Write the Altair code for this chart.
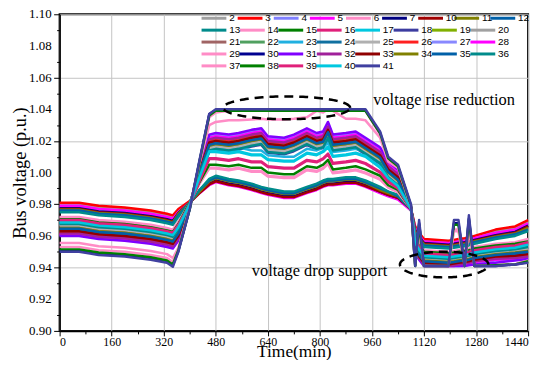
import altair as alt
import pandas as pd
import numpy as np

# ---------------- data ----------------
T = [0, 60, 120, 200, 280, 330, 348, 365, 400, 430,
     460, 480, 520, 550, 590, 620, 640, 690, 720, 760,
     790, 810, 825, 840, 880, 910, 940, 985, 1010, 1040,
     1080, 1093, 1105, 1120, 1195, 1212, 1226, 1245, 1258, 1275,
     1340, 1400, 1440]

bus_2 = [0.980, 0.980, 0.978, 0.977, 0.975, 0.973, 0.972,
         0.976, 0.982, 0.988,
         0.994, 0.996, 0.994, 0.993, 0.991, 0.989, 0.988, 0.986, 0.986, 0.989, 0.991, 0.993, 0.994, 0.994, 0.995, 0.995, 0.993,
         0.989, 0.987, 0.985, 0.977,
         0.965, 0.961, 0.957, 0.956, 0.9565, 0.957, 0.9575, 0.958, 0.959, 0.963, 0.965, 0.969]
bus_3 = [0.981, 0.981, 0.979, 0.978, 0.976, 0.974, 0.973,
         0.977, 0.982, 0.988,
         0.993, 0.995, 0.993, 0.992, 0.990, 0.988, 0.987, 0.985, 0.985, 0.988, 0.990, 0.992, 0.993, 0.993, 0.994, 0.994, 0.992,
         0.988, 0.986, 0.984, 0.977,
         0.966, 0.962, 0.958, 0.957, 0.9575, 0.958, 0.9585, 0.959, 0.960, 0.964, 0.966, 0.970]
bus_4 = [0.978, 0.978, 0.976, 0.975, 0.973, 0.971, 0.970,
         0.975, 0.981, 0.988,
         0.994, 0.996, 0.994, 0.993, 0.991, 0.989, 0.988, 0.986, 0.986, 0.989, 0.991, 0.993, 0.994, 0.994, 0.995, 0.995, 0.993,
         0.989, 0.987, 0.985, 0.977,
         0.964, 0.960, 0.956, 0.955, 0.9555, 0.956, 0.9565, 0.957, 0.958, 0.961, 0.963, 0.967]
bus_5 = [0.979, 0.979, 0.977, 0.976, 0.974, 0.972, 0.971,
         0.975, 0.981, 0.987,
         0.992, 0.994, 0.992, 0.991, 0.989, 0.987, 0.986, 0.984, 0.984, 0.987, 0.989, 0.991, 0.992, 0.992, 0.993, 0.993, 0.991,
         0.987, 0.985, 0.983, 0.976,
         0.9645, 0.9605, 0.9565, 0.9555, 0.956, 0.9565, 0.957, 0.9575, 0.9585, 0.962, 0.964, 0.968]
bus_6 = [0.972, 0.972, 0.970, 0.969, 0.967, 0.965, 0.964,
         0.969, 0.981, 0.993,
         1.003, 1.003, 1.002, 1.003, 1.001, 1.001, 0.998, 0.997, 0.997, 1.002, 1.001, 1.003, 1.006, 1.000, 1.001, 1.002, 1.000,
         0.996, 0.991, 0.988, 0.977,
         0.959, 0.955, 0.951, 0.950, 0.9505, 0.951, 0.9515, 0.952, 0.953, 0.955, 0.956, 0.958]
bus_7 = [0.9775, 0.9775, 0.9755, 0.9745, 0.9725, 0.9705, 0.9695,
         0.9745, 0.981, 0.988,
         0.993, 0.995, 0.993, 0.992, 0.990, 0.988, 0.987, 0.985, 0.985, 0.988, 0.990, 0.992, 0.993, 0.993, 0.994, 0.994, 0.992,
         0.988, 0.986, 0.984, 0.977,
         0.9635, 0.9595, 0.9555, 0.9545, 0.955, 0.9555, 0.956, 0.9565, 0.9575, 0.9605, 0.9625, 0.9665]
bus_10 = [0.977, 0.977, 0.975, 0.974, 0.972, 0.970, 0.969,
          0.974, 0.981, 0.987,
          0.9925, 0.9945, 0.9925, 0.9915, 0.9895, 0.9875, 0.9865, 0.9845, 0.9845, 0.9875, 0.9895, 0.9915, 0.9925, 0.9925, 0.9935, 0.9935, 0.9915,
          0.988, 0.986, 0.984, 0.977,
          0.963, 0.959, 0.955, 0.954, 0.9545, 0.955, 0.9555, 0.956, 0.957, 0.960, 0.962, 0.966]
bus_11 = [0.9765, 0.9765, 0.9745, 0.9735, 0.9715, 0.9695, 0.9685,
          0.974, 0.981, 0.988,
          0.9945, 0.9965, 0.9945, 0.9935, 0.9915, 0.9895, 0.9885, 0.9865, 0.9865, 0.9895, 0.9915, 0.9935, 0.9945, 0.9945, 0.9955, 0.9955, 0.9935,
          0.989, 0.987, 0.985, 0.977,
          0.9625, 0.9585, 0.9545, 0.9535, 0.954, 0.9545, 0.955, 0.9555, 0.9565, 0.9595, 0.9615, 0.965]
bus_12 = [0.976, 0.976, 0.974, 0.973, 0.971, 0.969, 0.968,
          0.973, 0.981, 0.989,
          0.995, 0.997, 0.995, 0.994, 0.992, 0.990, 0.989, 0.987, 0.987, 0.990, 0.992, 0.994, 0.995, 0.995, 0.996, 0.996, 0.994,
          0.990, 0.988, 0.985, 0.977,
          0.962, 0.958, 0.954, 0.953, 0.9535, 0.954, 0.9545, 0.955, 0.956, 0.959, 0.961, 0.964]
bus_13 = [0.975, 0.975, 0.973, 0.972, 0.970, 0.968, 0.967,
          0.972, 0.981, 0.989,
          0.996, 0.998, 0.996, 0.995, 0.993, 0.991, 0.990, 0.988, 0.988, 0.991, 0.993, 0.995, 0.996, 0.996, 0.997, 0.997, 0.995,
          0.991, 0.988, 0.986, 0.977,
          0.961, 0.957, 0.953, 0.952, 0.9525, 0.953, 0.9535, 0.954, 0.955, 0.958, 0.960, 0.963]
bus_14 = [0.9715, 0.9715, 0.9695, 0.9685, 0.9665, 0.9645, 0.9635,
          0.9685, 0.981, 0.993,
          1.0025, 1.0025, 1.0015, 1.0025, 1.0005, 1.0005, 0.9975, 0.9965, 0.9965, 1.0015, 1.0005, 1.0025, 1.0055, 0.9995, 1.0005, 1.0015, 0.9995,
          0.9955, 0.9905, 0.9875, 0.977,
          0.9585, 0.9545, 0.9505, 0.9495, 0.950, 0.9505, 0.951, 0.9515, 0.9525, 0.9545, 0.9555, 0.957]
bus_15 = [0.9705, 0.9705, 0.9685, 0.9675, 0.9655, 0.9635, 0.9625,
          0.9675, 0.981, 0.994,
          1.005, 1.005, 1.004, 1.005, 1.003, 1.003, 1.000, 0.999, 0.999, 1.004, 1.003, 1.005, 1.008, 1.002, 1.003, 1.004, 1.002,
          0.998, 0.992, 0.989, 0.977,
          0.958, 0.954, 0.950, 0.949, 0.9495, 0.950, 0.9505, 0.951, 0.952, 0.954, 0.955, 0.9565]
bus_16 = [0.970, 0.970, 0.968, 0.967, 0.965, 0.963, 0.962,
          0.967, 0.980, 0.995,
          1.0085, 1.0085, 1.0075, 1.0085, 1.0065, 1.0065, 1.0035, 1.0025, 1.0025, 1.0075, 1.0065, 1.0085, 1.0115, 1.0055, 1.0065, 1.0075, 1.0055,
          1.000, 0.994, 0.990, 0.977,
          0.957, 0.953, 0.949, 0.948, 0.9485, 0.949, 0.9495, 0.950, 0.951, 0.953, 0.954, 0.956]
bus_17 = [0.969, 0.969, 0.967, 0.966, 0.964, 0.962, 0.961,
          0.966, 0.980, 0.997,
          1.013, 1.013, 1.012, 1.013, 1.011, 1.011, 1.008, 1.007, 1.007, 1.012, 1.011, 1.013, 1.016, 1.010, 1.011, 1.012, 1.010,
          1.003, 0.996, 0.991, 0.977,
          0.956, 0.952, 0.948, 0.947, 0.9475, 0.948, 0.9485, 0.949, 0.950, 0.952, 0.953, 0.955]
bus_18 = [0.967, 0.967, 0.965, 0.964, 0.962, 0.960, 0.959,
          0.964, 0.980, 0.998,
          1.0135, 1.0145, 1.0135, 1.0145, 1.0165, 1.0175, 1.0125, 1.0115, 1.0135, 1.0175, 1.0145, 1.0155, 1.0215, 1.0135, 1.0145, 1.0155, 1.0115,
          1.0055, 0.9965, 0.9915, 0.977,
          0.954, 0.950, 0.946, 0.945, 0.9455, 0.946, 0.9465, 0.947, 0.948, 0.950, 0.951, 0.9525]
bus_19 = [0.9635, 0.9635, 0.9615, 0.9605, 0.9585, 0.9565, 0.9555,
          0.9605, 0.980, 1.001,
          1.0185, 1.0195, 1.0185, 1.0195, 1.0215, 1.0225, 1.0175, 1.0165, 1.0185, 1.0225, 1.0195, 1.0205, 1.0265, 1.0185, 1.0195, 1.0205, 1.0165,
          1.0105, 1.0015, 0.9965, 0.977,
          0.9515, 0.9475, 0.9435, 0.9425, 0.943, 0.9435, 0.944, 0.9445, 0.9455, 0.9475, 0.948, 0.949]
bus_20 = [0.967, 0.967, 0.965, 0.964, 0.962, 0.960, 0.959,
          0.964, 0.980, 0.999,
          1.015, 1.016, 1.015, 1.016, 1.018, 1.019, 1.014, 1.013, 1.015, 1.019, 1.016, 1.017, 1.023, 1.015, 1.016, 1.017, 1.013,
          1.007, 0.998, 0.993, 0.977,
          0.954, 0.950, 0.946, 0.945, 0.9455, 0.946, 0.9465, 0.947, 0.948, 0.950, 0.951, 0.9525]
bus_21 = [0.966, 0.966, 0.964, 0.963, 0.961, 0.959, 0.958,
          0.963, 0.980, 1.000,
          1.016, 1.017, 1.016, 1.017, 1.019, 1.020, 1.015, 1.014, 1.016, 1.020, 1.017, 1.018, 1.024, 1.016, 1.017, 1.018, 1.014,
          1.008, 0.999, 0.994, 0.977,
          0.953, 0.949, 0.945, 0.944, 0.9445, 0.945, 0.9455, 0.946, 0.947, 0.949, 0.950, 0.9515]
bus_22 = [0.9625, 0.9625, 0.9605, 0.9595, 0.9575, 0.9555, 0.9545,
          0.9595, 0.979, 1.002,
          1.020, 1.021, 1.020, 1.021, 1.023, 1.024, 1.019, 1.018, 1.020, 1.024, 1.021, 1.022, 1.028, 1.020, 1.021, 1.022, 1.018,
          1.012, 1.003, 0.998, 0.978,
          0.9505, 0.9465, 0.9425, 0.9415, 0.942, 0.9425, 0.943, 0.9435, 0.9445, 0.9465, 0.947, 0.948]
bus_23 = [0.968, 0.968, 0.966, 0.965, 0.963, 0.961, 0.960,
          0.965, 0.980, 0.998,
          1.016, 1.016, 1.015, 1.016, 1.014, 1.014, 1.011, 1.010, 1.010, 1.015, 1.014, 1.016, 1.019, 1.013, 1.014, 1.015, 1.013,
          1.006, 0.998, 0.993, 0.977,
          0.955, 0.951, 0.947, 0.946, 0.9465, 0.947, 0.9475, 0.948, 0.949, 0.951, 0.952, 0.954]
bus_24 = [0.964, 0.964, 0.962, 0.961, 0.959, 0.957, 0.956,
          0.961, 0.980, 1.001,
          1.018, 1.019, 1.018, 1.019, 1.021, 1.022, 1.017, 1.016, 1.018, 1.022, 1.019, 1.020, 1.026, 1.018, 1.019, 1.020, 1.016,
          1.010, 1.001, 0.996, 0.977,
          0.9515, 0.9475, 0.9435, 0.9425, 0.943, 0.9435, 0.944, 0.9445, 0.9455, 0.9475, 0.9485, 0.9495]
bus_25 = [0.9665, 0.9665, 0.9645, 0.9635, 0.9615, 0.9595, 0.9585,
          0.9635, 0.980, 0.999,
          1.0155, 1.0165, 1.0155, 1.0165, 1.0185, 1.0195, 1.0145, 1.0135, 1.0155, 1.0195, 1.0165, 1.0175, 1.0235, 1.0155, 1.0165, 1.0175, 1.0135,
          1.0075, 0.9985, 0.9935, 0.977,
          0.9535, 0.9495, 0.9455, 0.9445, 0.945, 0.9455, 0.946, 0.9465, 0.9475, 0.9495, 0.9505, 0.952]
bus_26 = [0.962, 0.962, 0.960, 0.959, 0.957, 0.955, 0.954,
          0.959, 0.979, 1.002,
          1.0205, 1.0215, 1.0205, 1.0215, 1.0235, 1.0245, 1.0195, 1.0185, 1.0205, 1.0245, 1.0215, 1.0225, 1.0285, 1.0205, 1.0215, 1.0225, 1.0185,
          1.0125, 1.0035, 0.9985, 0.978,
          0.9505, 0.9465, 0.9425, 0.9415, 0.942, 0.9425, 0.943, 0.9435, 0.9445, 0.946, 0.9465, 0.9475]
bus_27 = [0.9605, 0.9605, 0.9585, 0.9575, 0.9555, 0.9535, 0.9525,
          0.9575, 0.979, 1.003,
          1.023, 1.024, 1.023, 1.024, 1.026, 1.027, 1.022, 1.021, 1.023, 1.027, 1.024, 1.025, 1.031, 1.023, 1.024, 1.025, 1.021,
          1.015, 1.006, 1.001, 0.978,
          0.9495, 0.9455, 0.9415, 0.941, 0.941, 0.941, 0.9415, 0.942, 0.943, 0.9445, 0.945, 0.946]
bus_28 = [0.961, 0.961, 0.959, 0.958, 0.956, 0.954, 0.953,
          0.958, 0.979, 1.003,
          1.022, 1.023, 1.022, 1.023, 1.025, 1.026, 1.021, 1.020, 1.022, 1.026, 1.023, 1.024, 1.030, 1.022, 1.023, 1.024, 1.020,
          1.014, 1.005, 1.000, 0.978,
          0.950, 0.946, 0.942, 0.941, 0.941, 0.9415, 0.942, 0.9425, 0.9435, 0.945, 0.9455, 0.9465]
bus_29 = [0.9555, 0.9555, 0.9535, 0.9525, 0.9505, 0.9485, 0.946,
          0.9525, 0.978, 1.006,
          1.035, 1.038, 1.039, 1.039, 1.039, 1.039, 1.039, 1.039, 1.039, 1.039, 1.039, 1.039, 1.039, 1.039, 1.039, 1.039, 1.039,
          1.024, 1.008, 1.003, 0.979,
          0.942, 0.964, 0.941, 0.941, 0.964, 0.964, 0.941, 0.966, 0.941, 0.9415, 0.942, 0.945]
bus_30 = [0.951, 0.951, 0.949, 0.948, 0.946, 0.944, 0.9415,
          0.9505, 0.977, 1.007,
          1.037, 1.0395, 1.0395, 1.0395, 1.0395, 1.0395, 1.0395, 1.0395, 1.0395, 1.0395, 1.0395, 1.0395, 1.0395, 1.0395, 1.0395, 1.0395, 1.0395,
          1.025, 1.009, 1.004, 0.979,
          0.941, 0.968, 0.941, 0.941, 0.968, 0.968, 0.941, 0.971, 0.941, 0.941, 0.942, 0.9435]
bus_31 = [0.960, 0.960, 0.958, 0.957, 0.955, 0.953, 0.952,
          0.957, 0.979, 1.003,
          1.024, 1.025, 1.024, 1.025, 1.027, 1.028, 1.023, 1.022, 1.024, 1.028, 1.025, 1.026, 1.032, 1.024, 1.025, 1.026, 1.022,
          1.016, 1.007, 1.002, 0.978,
          0.949, 0.945, 0.941, 0.941, 0.941, 0.941, 0.941, 0.9415, 0.942, 0.943, 0.9445, 0.9455]
bus_32 = [0.9615, 0.9615, 0.9595, 0.9585, 0.9565, 0.9545, 0.9535,
          0.9585, 0.979, 1.002,
          1.021, 1.022, 1.021, 1.022, 1.024, 1.025, 1.020, 1.019, 1.021, 1.025, 1.022, 1.023, 1.029, 1.021, 1.022, 1.023, 1.019,
          1.013, 1.004, 0.999, 0.978,
          0.950, 0.946, 0.942, 0.941, 0.9415, 0.942, 0.9425, 0.943, 0.944, 0.9455, 0.946, 0.947]
bus_33 = [0.963, 0.963, 0.961, 0.960, 0.958, 0.956, 0.955,
          0.960, 0.979, 1.001,
          1.019, 1.020, 1.019, 1.020, 1.022, 1.023, 1.018, 1.017, 1.019, 1.023, 1.020, 1.021, 1.027, 1.019, 1.020, 1.021, 1.017,
          1.011, 1.002, 0.997, 0.978,
          0.951, 0.947, 0.943, 0.942, 0.9425, 0.943, 0.9435, 0.944, 0.945, 0.947, 0.9475, 0.9485]
bus_34 = [0.965, 0.965, 0.963, 0.962, 0.960, 0.958, 0.957,
          0.962, 0.980, 1.000,
          1.017, 1.018, 1.017, 1.018, 1.020, 1.021, 1.016, 1.015, 1.017, 1.021, 1.018, 1.019, 1.025, 1.017, 1.018, 1.019, 1.015,
          1.009, 1.000, 0.995, 0.977,
          0.9525, 0.9485, 0.9445, 0.9435, 0.944, 0.9445, 0.945, 0.9455, 0.9465, 0.9485, 0.9495, 0.9505]
bus_35 = [0.9645, 0.9645, 0.9625, 0.9615, 0.9595, 0.9575, 0.9565,
          0.9615, 0.980, 1.000,
          1.0175, 1.0185, 1.0175, 1.0185, 1.0205, 1.0215, 1.0165, 1.0155, 1.0175, 1.0215, 1.0185, 1.0195, 1.0255, 1.0175, 1.0185, 1.0195, 1.0155,
          1.0095, 1.0005, 0.9955, 0.977,
          0.952, 0.948, 0.944, 0.943, 0.9435, 0.944, 0.9445, 0.945, 0.946, 0.948, 0.949, 0.950]
bus_36 = [0.9675, 0.9675, 0.9655, 0.9645, 0.9625, 0.9605, 0.9595,
          0.9645, 0.980, 0.999,
          1.014, 1.015, 1.014, 1.015, 1.017, 1.018, 1.013, 1.012, 1.014, 1.018, 1.015, 1.016, 1.022, 1.014, 1.015, 1.016, 1.012,
          1.006, 0.997, 0.992, 0.977,
          0.9545, 0.9505, 0.9465, 0.9455, 0.946, 0.9465, 0.947, 0.9475, 0.9485, 0.9505, 0.9515, 0.953]
bus_37 = [0.953, 0.953, 0.951, 0.950, 0.948, 0.946, 0.9435,
          0.952, 0.978, 1.006,
          1.030, 1.032, 1.033, 1.033, 1.0335, 1.034, 1.0335, 1.0335, 1.034, 1.035, 1.039, 1.038, 1.040, 1.039, 1.034, 1.034, 1.033,
          1.022, 1.007, 1.003, 0.978,
          0.942, 0.963, 0.941, 0.941, 0.963, 0.963, 0.941, 0.965, 0.941, 0.9415, 0.942, 0.9445]
bus_38 = [0.9515, 0.9515, 0.9495, 0.9485, 0.9465, 0.9445, 0.942,
          0.951, 0.977, 1.007,
          1.036, 1.039, 1.039, 1.039, 1.039, 1.039, 1.039, 1.039, 1.039, 1.039, 1.039, 1.039, 1.039, 1.039, 1.039, 1.039, 1.039,
          1.025, 1.009, 1.004, 0.979,
          0.941, 0.967, 0.941, 0.941, 0.967, 0.967, 0.941, 0.970, 0.941, 0.9415, 0.942, 0.944]
bus_39 = [0.9695, 0.9695, 0.9675, 0.9665, 0.9645, 0.9625, 0.9615,
          0.9665, 0.980, 0.995,
          1.009, 1.009, 1.008, 1.009, 1.007, 1.007, 1.004, 1.003, 1.003, 1.008, 1.007, 1.009, 1.012, 1.006, 1.007, 1.008, 1.006,
          1.0005, 0.9945, 0.9905, 0.977,
          0.9565, 0.9525, 0.9485, 0.9475, 0.948, 0.9485, 0.949, 0.9495, 0.9505, 0.9525, 0.9535, 0.9555]
bus_40 = [0.9685, 0.9685, 0.9665, 0.9655, 0.9635, 0.9615, 0.9605,
          0.9655, 0.980, 0.997,
          1.0135, 1.0135, 1.0125, 1.0135, 1.0115, 1.0115, 1.0085, 1.0075, 1.0075, 1.0125, 1.0115, 1.0135, 1.0165, 1.0105, 1.0115, 1.0125, 1.0105,
          1.0035, 0.9965, 0.9915, 0.977,
          0.9555, 0.9515, 0.9475, 0.9465, 0.947, 0.9475, 0.948, 0.9485, 0.9495, 0.9515, 0.9525, 0.9545]
bus_41 = [0.950, 0.950, 0.948, 0.947, 0.945, 0.943, 0.9405,
          0.950, 0.977, 1.008,
          1.037, 1.040, 1.040, 1.040, 1.040, 1.040, 1.040, 1.040, 1.040, 1.040, 1.040, 1.040, 1.040, 1.040, 1.040, 1.040, 1.040,
          1.026, 1.010, 1.005, 0.980,
          0.941, 0.970, 0.941, 0.941, 0.970, 0.970, 0.941, 0.973, 0.941, 0.941, 0.942, 0.943]

buses = ["2", "3", "4", "5", "6", "7", "10", "11", "12", "13", "14", "15", "16",
         "17", "18", "19", "20", "21", "22", "23", "24", "25", "26", "27", "28",
         "29", "30", "31", "32", "33", "34", "35", "36", "37", "38", "39", "40", "41"]
colors = ["#a0a0a0", "#ff0000", "#8080ff", "#ff00ff", "#ff8cc6", "#000080",
          "#a00000", "#808000", "#0060a8", "#008b8b", "#ff8cc6", "#008000",
          "#e0207a", "#00c8e0", "#3c3ca0", "#80b000", "#a0a0a0", "#a06464",
          "#50a060", "#20b0e0", "#1070a0", "#b0b0b0", "#ff2020", "#8888ff",
          "#ff00ff", "#ff8cc6", "#000090", "#8000ff", "#a0209a", "#900000",
          "#808000", "#0060a8", "#008b8b", "#ff8cc6", "#008000", "#e0207a",
          "#00c8e0", "#4040a0"]
series = [bus_2, bus_3, bus_4, bus_5, bus_6, bus_7, bus_10, bus_11, bus_12,
          bus_13, bus_14, bus_15, bus_16, bus_17, bus_18, bus_19, bus_20,
          bus_21, bus_22, bus_23, bus_24, bus_25, bus_26, bus_27, bus_28,
          bus_29, bus_30, bus_31, bus_32, bus_33, bus_34, bus_35, bus_36,
          bus_37, bus_38, bus_39, bus_40, bus_41]

x_major = [0, 160, 320, 480, 640, 800, 960, 1120, 1280, 1440]
x_minor = [80, 240, 400, 560, 720, 880, 1040, 1200, 1360]
y_major = [0.90, 0.92, 0.94, 0.96, 0.98, 1.00, 1.02, 1.04, 1.06, 1.08, 1.10]
y_minor = [0.91, 0.93, 0.95, 0.97, 0.99, 1.01, 1.03, 1.05, 1.07, 1.09]

annot_text = ["voltage rise reduction", "voltage drop support"]
annot_t = [964, 1007]
annot_v = [1.0456, 0.9375]
annot_align = ["left", "right"]

ellipse_cx = [698, 1182]
ellipse_cy = [1.0409, 0.9419]
ellipse_rx = [195, 136]
ellipse_ry = [0.0072, 0.0081]

# legend layout (entries per row as in the picture, relative column pitch)
legend_row_sizes = [9, 8, 8, 8, 5]
legend_row_pitch = [0.94, 1.0, 1.0, 1.0, 1.0]

# ---------------- tables ----------------
rows = []
for b, vals in zip(buses, series):
    if len(vals) != len(T):
        raise ValueError(f"bus {b}: {len(vals)} values")
    for t, v in zip(T, vals):
        rows.append({"t": t, "v": v, "bus": b})
df = pd.DataFrame(rows)

ell_rows = []
ang = np.linspace(0, 2 * np.pi, 145)
for k in range(len(ellipse_cx)):
    for i, a in enumerate(ang):
        ell_rows.append({"t": ellipse_cx[k] + ellipse_rx[k] * np.cos(a),
                         "v": ellipse_cy[k] + ellipse_ry[k] * np.sin(a),
                         "e": k, "i": i})
df_ell = pd.DataFrame(ell_rows)

df_txt = pd.DataFrame({"t": annot_t, "v": annot_v, "text": annot_text, "align": annot_align})

df_ylab = pd.DataFrame({"v": y_major, "label": [f"{v:.2f}" for v in y_major]})

leg_rows = []
idx = 0
for r, n in enumerate(legend_row_sizes):
    for c in range(n):
        slot = c * legend_row_pitch[r]
        leg_rows.append({"bus": buses[idx], "row": r, "x0": slot,
                         "x1": slot + 0.646, "xl": slot + 0.72})
        idx += 1
df_leg = pd.DataFrame(leg_rows)

df_dummy = pd.DataFrame({"t": [0], "v": [0.90]})

# ---------------- chart ----------------
xscale = alt.Scale(domain=[0, 1440], nice=False)
yscale = alt.Scale(domain=[0.90, 1.10], nice=False, zero=False)
cscale = alt.Scale(domain=buses, range=colors)

xaxis = alt.Axis(
    values=x_major, title="Time(min)", labelExpr="format(datum.value, 'd')",
    tickSize=5, grid=True, titleFontSize=17.5, titlePadding=-5,
    labelFontSize=12, labelPadding=1, labelOverlap=False,
)
yaxis = alt.Axis(
    values=y_major, title="Bus voltage (p.u.)", labels=False,
    tickSize=6, grid=True, titleFontSize=18.5, titlePadding=24,
)

lines = alt.Chart(df).mark_line(strokeWidth=2.5, strokeJoin="round").encode(
    x=alt.X("t:Q", scale=xscale, axis=xaxis),
    y=alt.Y("v:Q", scale=yscale, axis=yaxis),
    color=alt.Color("bus:N", sort=buses, scale=cscale, legend=None),
)

ellipses = alt.Chart(df_ell).mark_line(
    color="black", strokeWidth=2.5, strokeDash=[9, 6]
).encode(
    x=alt.X("t:Q", scale=xscale),
    y=alt.Y("v:Q", scale=yscale),
    detail="e:N",
    order="i:Q",
)

texts_left = alt.Chart(df_txt[df_txt["align"] == "left"]).mark_text(
    align="left", baseline="middle", font="Liberation Serif", fontSize=16.5, color="black"
).encode(x=alt.X("t:Q", scale=xscale), y=alt.Y("v:Q", scale=yscale), text="text:N")

texts_right = alt.Chart(df_txt[df_txt["align"] == "right"]).mark_text(
    align="right", baseline="middle", font="Liberation Serif", fontSize=16.5, color="black"
).encode(x=alt.X("t:Q", scale=xscale), y=alt.Y("v:Q", scale=yscale), text="text:N")

ylabels = alt.Chart(df_ylab).mark_text(
    align="right", baseline="middle", font="Liberation Serif", fontSize=13, color="black"
).encode(x=alt.value(-8), y=alt.Y("v:Q", scale=yscale), text="label:N")

main = alt.layer(lines, ellipses, texts_left, texts_right, ylabels)

minor = alt.Chart(df_dummy).mark_point(opacity=0).encode(
    x=alt.X("t:Q", scale=xscale, axis=alt.Axis(
        values=x_minor, labels=False, grid=False, domain=False, tickSize=3,
        title=None, orient="bottom")),
    y=alt.Y("v:Q", scale=yscale, axis=alt.Axis(
        values=y_minor, labels=False, grid=False, domain=False, tickSize=3,
        title=None, orient="left")),
)

lx = alt.Scale(domain=[0, 8], range=[143, 452.6])
ly = alt.Scale(domain=[0, 5], range=[4, 64])
legend_rules = alt.Chart(df_leg).mark_rule(strokeWidth=3).encode(
    x=alt.X("x0:Q", scale=lx, axis=None),
    x2="x1:Q",
    y=alt.Y("row:Q", scale=ly, axis=None),
    color=alt.Color("bus:N", sort=buses, scale=cscale, legend=None),
)
legend_texts = alt.Chart(df_leg).mark_text(
    align="left", baseline="middle", font="Liberation Sans", fontSize=10, color="black"
).encode(
    x=alt.X("xl:Q", scale=lx, axis=None),
    y=alt.Y("row:Q", scale=ly, axis=None),
    text="bus:N",
)
legend = alt.layer(legend_rules, legend_texts)

chart = alt.layer(main, minor, legend).resolve_scale(
    x="independent", y="independent"
).properties(
    width=472, height=319,
    autosize=alt.AutoSizeParams(type="none"),
    padding={"left": 52, "top": 5, "right": 14, "bottom": 28},
).configure_view(
    stroke="black", strokeWidth=2
).configure_axis(
    domainColor="black", domainWidth=1.5, tickColor="black", tickWidth=1,
    gridColor="#c4c4c4", gridWidth=1,
    labelFont="Liberation Serif", labelColor="black",
    titleFont="Liberation Serif", titleColor="black", titleFontWeight="normal",
)

chart.save("out.html", embed_options={"renderer": "svg", "actions": False})
